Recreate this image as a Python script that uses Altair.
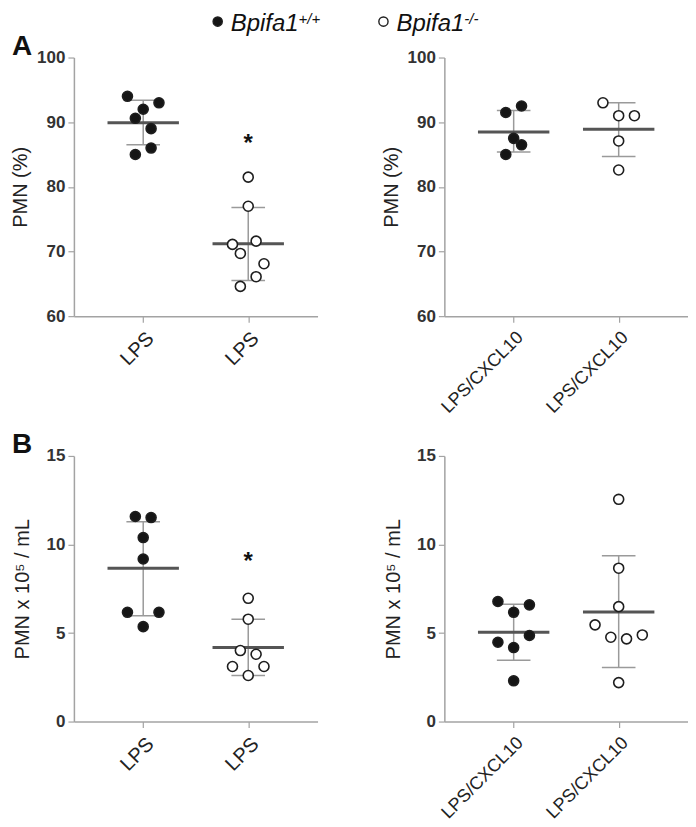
import json
import altair as alt
import pandas as pd

FONT = "Liberation Sans"

# ---------------- data ----------------
genotypes = ["Bpifa1+/+", "Bpifa1-/-"]
legend_names = ["Bpifa1", "Bpifa1"]
legend_sups = ["+/+", "-/-"]
panel_letters = ["A", "B"]

x_labels_lps = ["LPS", "LPS"]
x_labels_cxcl = ["LPS/CXCL10", "LPS/CXCL10"]
y_title_pct = "PMN (%)"
y_title_count = "PMN x 10⁵ / mL"
y_ticks_pct = [60, 70, 80, 90, 100]
y_ticks_count = [0, 5, 10, 15]
y_domain_pct = [60, 100]
y_domain_count = [0, 15]

# A, LPS
a1_wt = [94.0, 93.0, 92.0, 90.6, 89.0, 86.0, 85.0]
a1_wt_jit = [-2, 2, 0, -1, 1, 1, -1]
a1_ko = [81.5, 77.0, 71.6, 71.1, 69.7, 68.1, 66.1, 64.6]
a1_ko_jit = [0, 0, 1, -2, -1, 2, 1, -1]
a1_mean = [89.9, 71.2]
a1_hi = [93.4, 76.8]
a1_lo = [86.5, 65.5]
a1_star = [87.5]

# A, LPS/CXCL10
a2_wt = [92.5, 91.5, 87.5, 86.5, 85.0]
a2_wt_jit = [1, -1, 0, 1, -1]
a2_ko = [93.0, 91.0, 91.0, 87.1, 82.6]
a2_ko_jit = [-2, 0, 2, 0, 0]
a2_mean = [88.5, 88.9]
a2_hi = [91.8, 93.0]
a2_lo = [85.4, 84.7]
a2_star = []

# B, LPS
b1_wt = [11.58, 11.52, 10.39, 9.18, 6.17, 6.17, 5.36]
b1_wt_jit = [-1, 1, 0, 0, -2, 2, 0]
b1_ko = [6.96, 5.78, 4.01, 3.80, 3.11, 3.11, 2.60]
b1_ko_jit = [0, 0, -1, 1, -2, 2, 0]
b1_mean = [8.66, 4.18]
b1_hi = [11.29, 5.78]
b1_lo = [5.97, 2.60]
b1_star = [9.36]

# B, LPS/CXCL10
b2_wt = [6.78, 6.59, 6.17, 4.86, 4.48, 4.18, 2.30]
b2_wt_jit = [-2, 2, 0, 2, -2, 0, 0]
b2_ko = [12.55, 8.66, 6.49, 5.46, 4.76, 4.67, 4.89, 2.20]
b2_ko_jit = [0, 0, 0, -3, -1, 1, 3, 0]
b2_mean = [5.04, 6.19]
b2_hi = [6.63, 9.37]
b2_lo = [3.46, 3.05]
b2_star = []

# ---------------- style ----------------
W = 244
H_A = 259
H_B = 266
AXIS_GREY = "#a3a3a3"
ERR_GREY = "#9a9a9a"
MEAN_GREY = "#555555"
DOT_DARK = "#151515"
LEG_X = [144, 310]

fill_scale = alt.Scale(domain=genotypes, range=[DOT_DARK, "#ffffff"])


def panel(wt, wt_j, ko, ko_j, mean, hi, lo, star, xlabels, xfont, ydomain,
          yticks, ytitle, height, title_x, extra=()):
    pts = pd.DataFrame({
        "group": [0] * len(wt) + [1] * len(ko),
        "geno": [genotypes[0]] * len(wt) + [genotypes[1]] * len(ko),
        "value": wt + ko,
        "jit": wt_j + ko_j,
    })
    summ = pd.DataFrame({"group": [0, 1], "mean": mean, "hi": hi, "lo": lo})
    stars = pd.DataFrame({"group": [1] * len(star), "value": star})

    xscale = alt.Scale(domain=[-0.66, 1.66], nice=False, zero=False)
    yscale = alt.Scale(domain=ydomain, nice=False, zero=False)
    xaxis = alt.Axis(
        values=[0, 1], labelExpr=f"{json.dumps(xlabels)}[datum.value]",
        title=None, grid=False, labelAngle=-45, labelFontSize=xfont,
        labelFont=FONT, labelColor="#222222", labelPadding=6,
        tickSize=6, tickColor=AXIS_GREY, tickWidth=1.2,
        domainColor=AXIS_GREY, domainWidth=1.5,
    )
    yaxis = alt.Axis(
        values=yticks, title=ytitle, grid=False, labelFontSize=17,
        labelFontWeight="bold", labelFont=FONT, labelColor="#333333",
        labelPadding=3, tickSize=6, tickColor=AXIS_GREY, tickWidth=1.2,
        domainColor=AXIS_GREY, domainWidth=1.5,
        titleFont=FONT, titleFontSize=20, titleFontWeight="normal",
        titleColor="#222222", titleX=title_x, titleY=height / 2,
        titleBaseline="bottom", titleAngle=-90,
    )

    base = alt.Chart(summ)
    err = base.mark_rule(color=ERR_GREY, strokeWidth=1.5).encode(
        x=alt.X("group:Q", scale=xscale, axis=xaxis),
        y=alt.Y("lo:Q", scale=yscale, axis=yaxis),
        y2="hi:Q",
    )
    cap_hi = base.transform_calculate(
        xa="datum.group - 0.16", xb="datum.group + 0.16"
    ).mark_rule(color=ERR_GREY, strokeWidth=1.5).encode(
        x="xa:Q", x2="xb:Q", y="hi:Q")
    cap_lo = base.transform_calculate(
        xa="datum.group - 0.16", xb="datum.group + 0.16"
    ).mark_rule(color=ERR_GREY, strokeWidth=1.5).encode(
        x="xa:Q", x2="xb:Q", y="lo:Q")
    mline = base.transform_calculate(
        xa="datum.group - 0.34", xb="datum.group + 0.34"
    ).mark_rule(color=MEAN_GREY, strokeWidth=3).encode(
        x="xa:Q", x2="xb:Q", y="mean:Q")
    dots = alt.Chart(pts).transform_calculate(
        xp="datum.group + datum.jit * 0.075"
    ).mark_point(shape="circle", filled=True, size=100, stroke="#1e1e1e",
                 strokeWidth=1.6, opacity=1).encode(
        x="xp:Q", y="value:Q",
        fill=alt.Fill("geno:N", scale=fill_scale, legend=None),
    )
    layers = [err, cap_hi, cap_lo, mline, dots]
    if len(star):
        layers.append(
            alt.Chart(stars).mark_text(
                text="*", fontSize=24, fontWeight="bold", font=FONT,
                color="#111111", baseline="alphabetic", dy=13
            ).encode(x="group:Q", y="value:Q")
        )
    layers.extend(extra)
    return alt.layer(*layers).properties(width=W, height=height)


def letter(txt):
    return alt.Chart(pd.DataFrame({"t": [txt]})).mark_text(
        font=FONT, fontSize=28, fontWeight="bold", color="#111111",
        align="left", baseline="alphabetic"
    ).encode(text="t:N", x=alt.value(-62), y=alt.value(-3))


legend_layers = []
for i in range(2):
    d = pd.DataFrame({"geno": [genotypes[i]], "name": [legend_names[i]],
                      "sup": [legend_sups[i]]})
    c = alt.Chart(d)
    legend_layers.append(
        c.mark_point(shape="circle", filled=True, size=85, stroke="#1e1e1e",
                     strokeWidth=1.4, opacity=1).encode(
            x=alt.value(LEG_X[i]), y=alt.value(-36),
            fill=alt.Fill("geno:N", scale=fill_scale, legend=None))
    )
    legend_layers.append(
        c.mark_text(font=FONT, fontSize=24, fontStyle="italic",
                    color="#111111", align="left", baseline="alphabetic"
                    ).encode(text="name:N", x=alt.value(LEG_X[i] + 13),
                             y=alt.value(-27))
    )
    legend_layers.append(
        c.mark_text(font=FONT, fontSize=15, fontStyle="italic",
                    color="#111111", align="left", baseline="alphabetic"
                    ).encode(text="sup:N", x=alt.value(LEG_X[i] + 81),
                             y=alt.value(-34))
    )

pA1 = panel(a1_wt, a1_wt_jit, a1_ko, a1_ko_jit, a1_mean, a1_hi, a1_lo,
            a1_star, x_labels_lps, 20, y_domain_pct, y_ticks_pct,
            y_title_pct, H_A, -43,
            extra=[letter(panel_letters[0])] + legend_layers)
pA2 = panel(a2_wt, a2_wt_jit, a2_ko, a2_ko_jit, a2_mean, a2_hi, a2_lo,
            a2_star, x_labels_cxcl, 18, y_domain_pct, y_ticks_pct,
            y_title_pct, H_A, -43)
pB1 = panel(b1_wt, b1_wt_jit, b1_ko, b1_ko_jit, b1_mean, b1_hi, b1_lo,
            b1_star, x_labels_lps, 20, y_domain_count, y_ticks_count,
            y_title_count, H_B, -41, extra=[letter(panel_letters[1])])
pB2 = panel(b2_wt, b2_wt_jit, b2_ko, b2_ko_jit, b2_mean, b2_hi, b2_lo,
            b2_star, x_labels_cxcl, 18, y_domain_count, y_ticks_count,
            y_title_count, H_B, -41)

chart = alt.concat(
    pA1, pA2, pB1, pB2, columns=2,
    spacing={"row": 140, "column": 127}, bounds="flush",
).properties(
    padding={"left": 3, "top": 3, "right": 0, "bottom": 0},
    background="#ffffff",
).configure(font=FONT).configure_view(strokeOpacity=0)

chart.save("out.html", embed_options={"renderer": "svg", "actions": False})
